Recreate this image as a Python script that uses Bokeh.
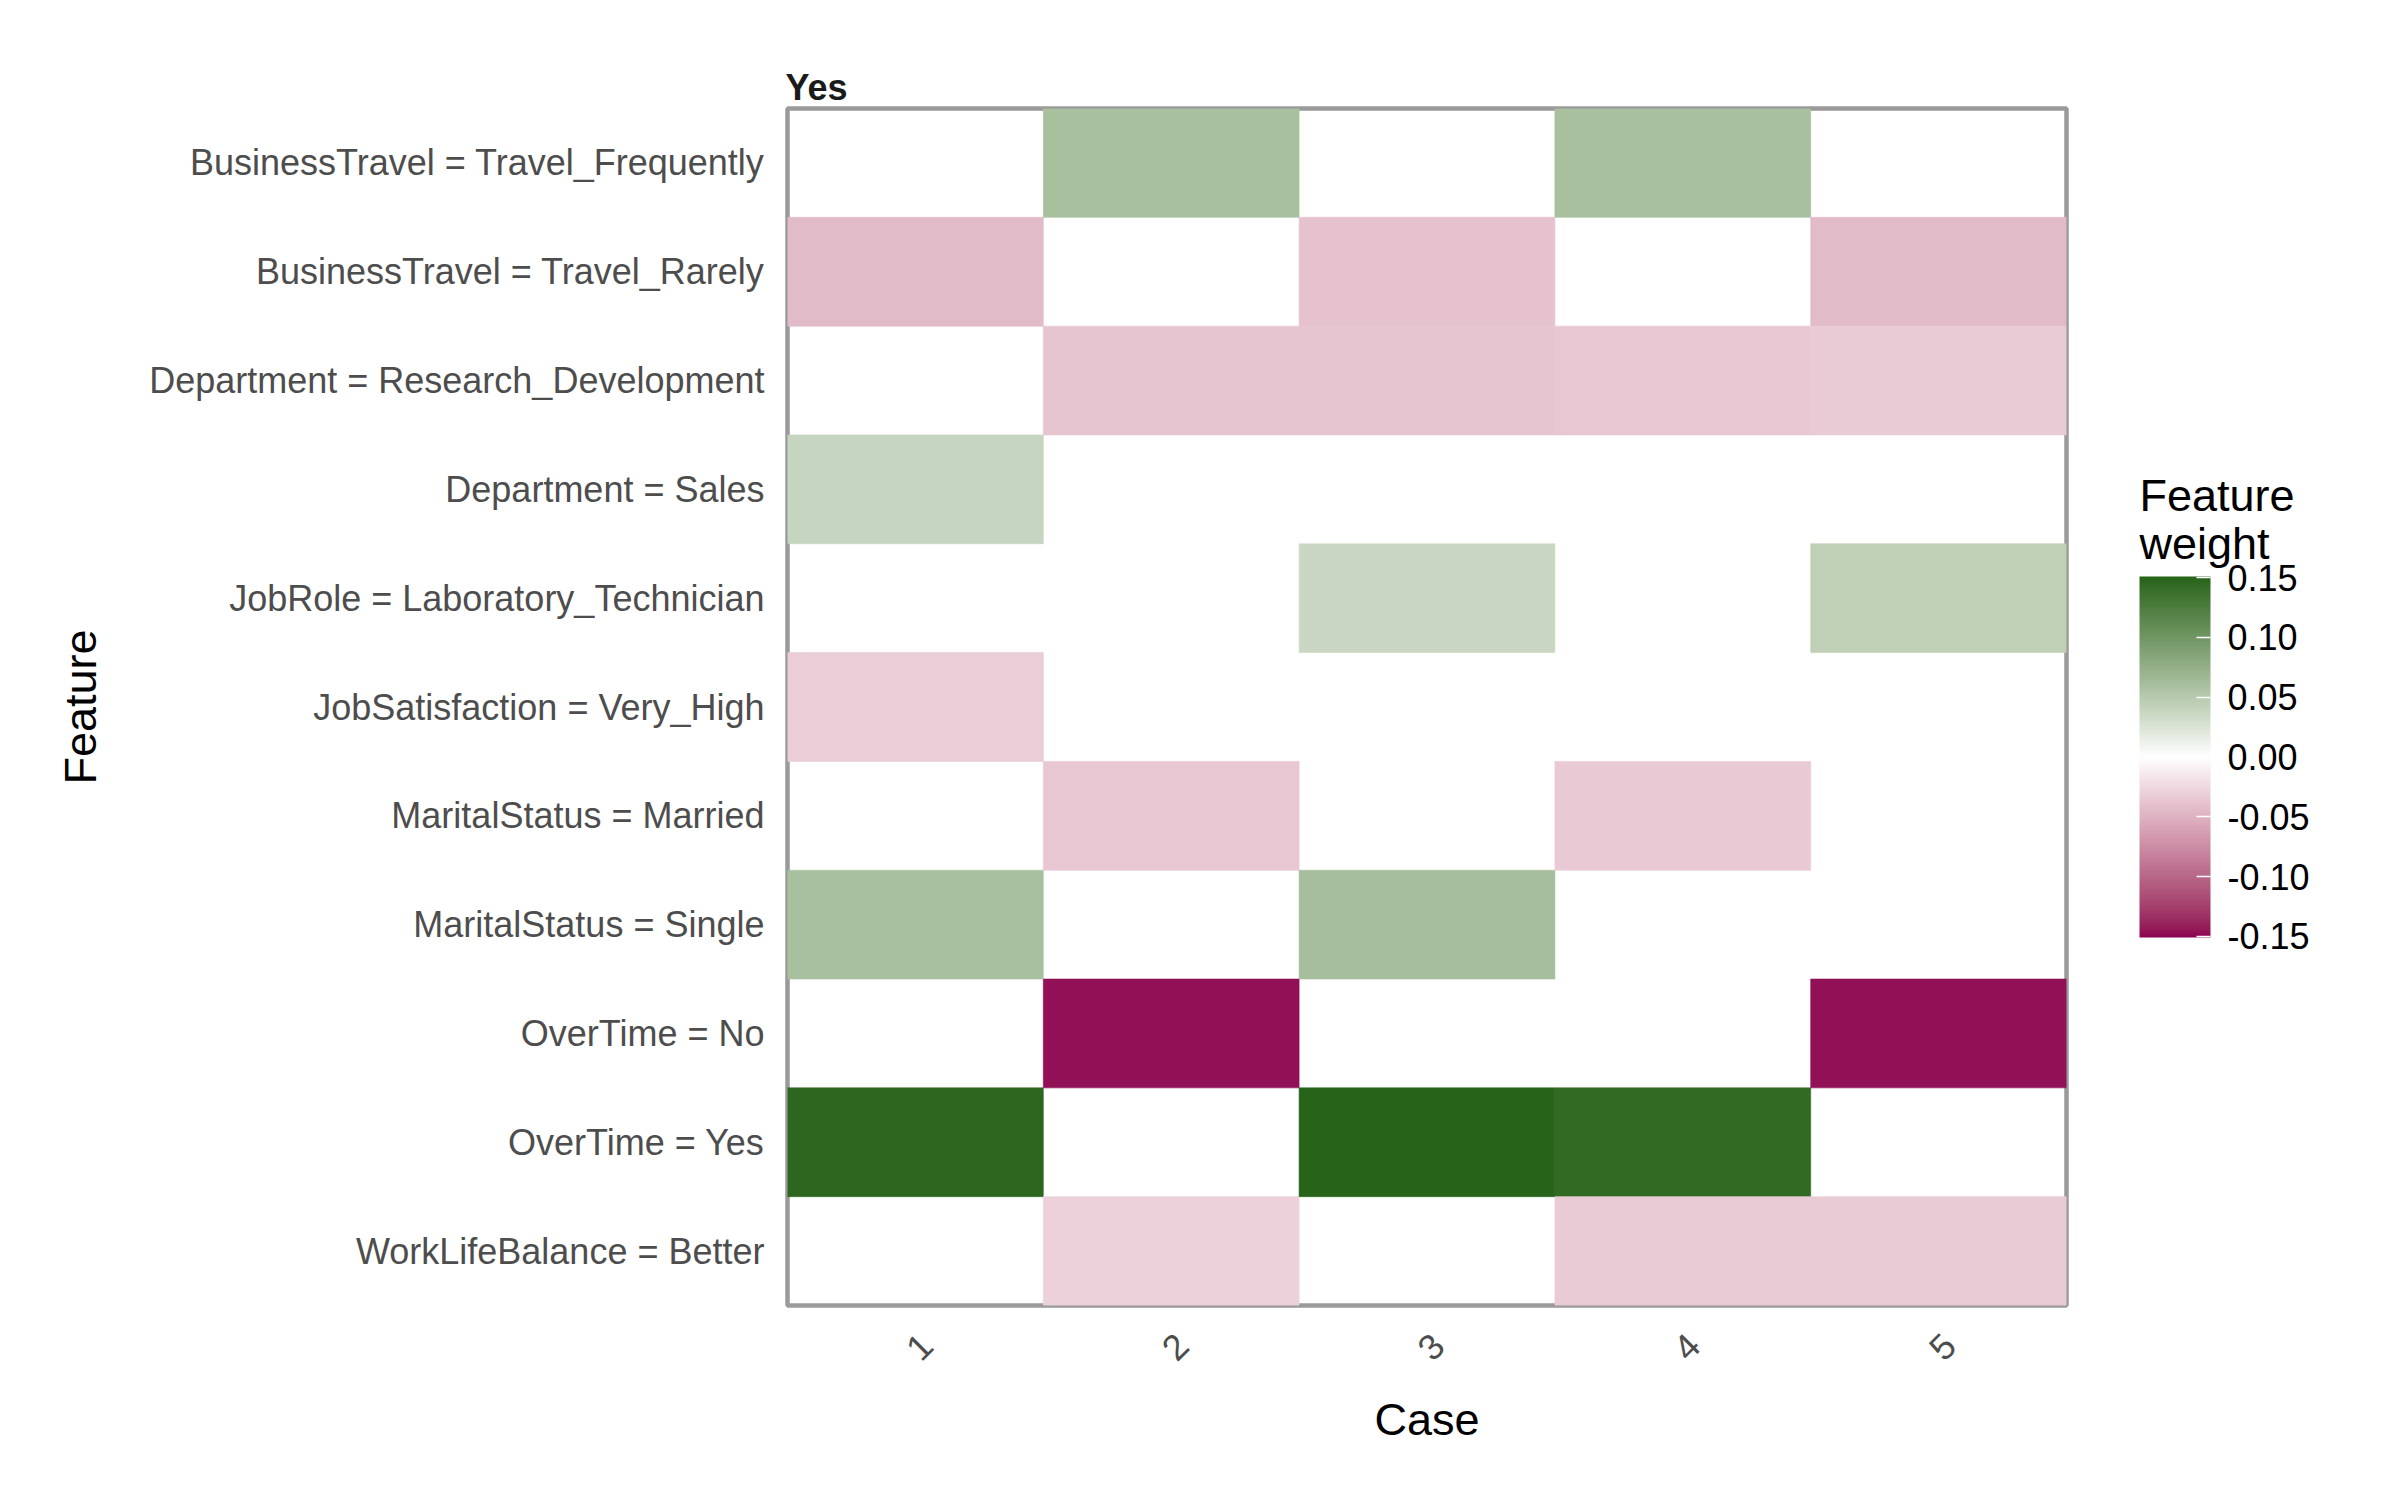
import numpy as np
from bokeh.plotting import figure
from bokeh.layouts import row
from bokeh.models import (LinearColorMapper, ColorBar, FixedTicker, Range1d, Label,
                          ColumnDataSource, FactorRange, PrintfTickFormatter)
from bokeh.embed import file_html
from bokeh.resources import INLINE

# ---------------- data ----------------
cases = ["1", "2", "3", "4", "5"]
features = [
    "BusinessTravel = Travel_Frequently",
    "BusinessTravel = Travel_Rarely",
    "Department = Research_Development",
    "Department = Sales",
    "JobRole = Laboratory_Technician",
    "JobSatisfaction = Very_High",
    "MaritalStatus = Married",
    "MaritalStatus = Single",
    "OverTime = No",
    "OverTime = Yes",
    "WorkLifeBalance = Better",
]
nan = float("nan")
weights_case1 = [nan, -0.044, nan, 0.039, nan, -0.032, nan, 0.060, nan, 0.147, nan]
weights_case2 = [0.060, nan, -0.038, nan, nan, nan, -0.036, nan, -0.147, nan, -0.030]
weights_case3 = [nan, -0.039, -0.038, nan, 0.037, nan, nan, 0.061, nan, 0.151, nan]
weights_case4 = [0.060, nan, -0.036, nan, nan, nan, -0.035, nan, nan, 0.145, -0.034]
weights_case5 = [nan, -0.044, -0.034, nan, 0.044, nan, nan, nan, -0.147, nan, -0.034]
legend_ticks = [-0.15, -0.10, -0.05, 0.0, 0.05, 0.10, 0.15]
legend_title = ["Feature", "weight"]

low_col, mid_col, high_col = "#8E0152", "#FFFFFF", "#276419"

# ---------------- Lab gradient ----------------
def _hex_to_rgb(h):
    h = h.lstrip("#")
    return np.array([int(h[i:i + 2], 16) / 255.0 for i in (0, 2, 4)])

def _to_lin(c):
    return np.where(c <= 0.04045, c / 12.92, ((c + 0.055) / 1.055) ** 2.4)

def _from_lin(c):
    c = np.clip(c, 0, 1)
    return np.where(c <= 0.0031308, 12.92 * c, 1.055 * c ** (1 / 2.4) - 0.055)

M_XYZ = np.array([[0.4124564, 0.3575761, 0.1804375],
                  [0.2126729, 0.7151522, 0.0721750],
                  [0.0193339, 0.1191920, 0.9503041]])
WHITE = np.array([0.95047, 1.0, 1.08883])

def _f(t):
    d = 6 / 29
    return np.where(t > d ** 3, np.cbrt(t), t / (3 * d * d) + 4 / 29)

def _finv(t):
    d = 6 / 29
    return np.where(t > d, t ** 3, 3 * d * d * (t - 4 / 29))

def hex_to_lab(h):
    xyz = M_XYZ @ _to_lin(_hex_to_rgb(h)) / WHITE
    fx, fy, fz = _f(xyz)
    return np.array([116 * fy - 16, 500 * (fx - fy), 200 * (fy - fz)])

def lab_to_hex(lab):
    L, a, b = lab
    fy = (L + 16) / 116
    fx = fy + a / 500
    fz = fy - b / 200
    xyz = np.array([_finv(fx), _finv(fy), _finv(fz)]) * WHITE
    rgb = _from_lin(np.linalg.inv(M_XYZ) @ xyz)
    r, g, bb = (np.clip(np.round(rgb * 255), 0, 255)).astype(int)
    return "#%02x%02x%02x" % (r, g, bb)

lab_low, lab_mid, lab_high = hex_to_lab(low_col), hex_to_lab(mid_col), hex_to_lab(high_col)
palette = []
N = 256
for i in range(N):
    t = i / (N - 1)
    if t < 0.5:
        s = t / 0.5
        lab = lab_low + (lab_mid - lab_low) * s
    else:
        s = (t - 0.5) / 0.5
        lab = lab_mid + (lab_high - lab_mid) * s
    palette.append(lab_to_hex(lab))

all_w = [weights_case1, weights_case2, weights_case3, weights_case4, weights_case5]
xs, xpos, ys, ws = [], [], [], []
for ci, (c, wl) in enumerate(zip(cases, all_w)):
    for f, w in zip(features, wl):
        if not np.isnan(w):
            xs.append(c); xpos.append(ci + 0.5); ys.append(f); ws.append(w)
lim = max(abs(v) for v in ws)
mapper = LinearColorMapper(palette=palette, low=-lim, high=lim)
src = ColumnDataSource(dict(case=xs, xpos=xpos, feature=ys, w=ws))

FONT = "Liberation Sans"
TOTAL_H = 1485

p = figure(
    x_range=Range1d(0, len(cases)),
    y_range=FactorRange(factors=list(reversed(features)), range_padding=0),
    frame_width=1279, frame_height=1197,
    min_border_left=787, min_border_top=108, min_border_bottom=TOTAL_H - 108 - 1197,
    min_border_right=40,
    output_backend="svg", toolbar_location=None,
    background_fill_color="white", border_fill_color="white",
)
p.rect(x="xpos", y="feature", width=1, height=1, source=src,
       fill_color={"field": "w", "transform": mapper},
       line_color={"field": "w", "transform": mapper}, line_width=0.6)

p.outline_line_color = "#9A9A9A"
p.outline_line_width = 4.5
p.xgrid.grid_line_color = None
p.ygrid.grid_line_color = None

# x axis: category labels (rotated), nudged so each label sits centred on its column
shift = 0.042
xaxis = p.xaxis[0]
xaxis.ticker = FixedTicker(ticks=[i + 0.5 + shift for i in range(len(cases))])
xaxis.major_label_overrides = {i + 0.5 + shift: c for i, c in enumerate(cases)}

for ax in (xaxis, p.yaxis[0]):
    ax.axis_line_color = None
    ax.major_tick_line_color = None
    ax.minor_tick_line_color = None
    ax.major_label_text_font = FONT
    ax.major_label_text_font_size = "36px"
    ax.major_label_text_color = "#4D4D4D"
    ax.axis_label_text_font = FONT
    ax.axis_label_text_font_size = "45px"
    ax.axis_label_text_font_style = "normal"
    ax.axis_label_text_color = "black"

p.yaxis.axis_label = "Feature"
p.yaxis.major_label_standoff = 17
p.yaxis.axis_label_standoff = 40
xaxis.axis_label = "Case"
xaxis.major_label_orientation = np.pi / 4
xaxis.major_label_standoff = 28
xaxis.axis_label_standoff = 19

p.title.text = "Yes"
p.title.align = "left"
p.title.text_font = FONT
p.title.text_font_size = "36px"
p.title.text_font_style = "bold"
p.title.text_color = "#1A1A1A"
p.title.standoff = 2
p.title.offset = -2

# ---------------- legend panel (separate figure so its texts are not clipped) ----------------
LEG_W = 278
q = figure(
    width=LEG_W, height=TOTAL_H,
    x_range=Range1d(0, 1), y_range=Range1d(0, 1),
    x_axis_location=None, y_axis_location=None,
    min_border=0, min_border_left=0, min_border_right=0, min_border_top=0, min_border_bottom=0,
    output_backend="svg", toolbar_location=None,
    background_fill_color="white", border_fill_color="white",
)
q.outline_line_color = None
q.xgrid.grid_line_color = None
q.ygrid.grid_line_color = None

cb = ColorBar(
    color_mapper=mapper, width=71, height=361,
    location=(33, TOTAL_H - 937 - 180), padding=0, margin=0,
    ticker=FixedTicker(ticks=legend_ticks),
    formatter=PrintfTickFormatter(format="%.2f"),
    major_label_text_font=FONT, major_label_text_font_size="36px",
    major_label_text_color="black",
    label_standoff=17,
    major_tick_line_color="white", major_tick_line_width=1.5,
    major_tick_in=14, major_tick_out=0,
    minor_tick_line_color=None,
    bar_line_color=None, border_line_color=None,
    background_fill_color=None,
)
q.add_layout(cb, "center")

for txt, base_y in zip(legend_title, (510, 558)):
    q.add_layout(Label(x=33, y=TOTAL_H - base_y - 165, x_units="screen", y_units="screen",
                       text=txt, text_font=FONT, text_font_size="45px",
                       text_color="black", text_baseline="alphabetic", text_align="left"))

layout = row(p, q, spacing=0)
open("out.html", "w").write(file_html(layout, INLINE))
